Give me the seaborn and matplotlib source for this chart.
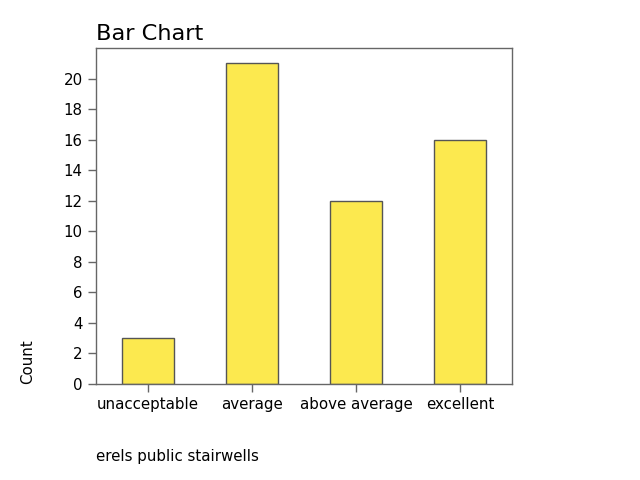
import numpy as np
import pandas as pd
import matplotlib
matplotlib.use('Agg')
import matplotlib.pyplot as plt
import seaborn as sns

categories = ['unacceptable', 'average', 'above average', 'excellent']
counts = [3, 21, 12, 16]

df = pd.DataFrame({'rating': categories, 'Count': counts})

sns.set_style('white')
plt.rcParams['font.family'] = ['DejaVu Sans']
plt.rcParams['text.color'] = 'black'

fig = plt.figure(figsize=(6.4, 4.8), dpi=100)
ax = fig.add_axes([0.15, 0.2, 0.65, 0.7])
sns.barplot(data=df, x='rating', y='Count', color='#fce94f', width=0.5,
            edgecolor='#555555', linewidth=1, saturation=1, ax=ax)

ax.set_ylim(0, 22)
ax.set_xlim(-0.5, 3.5)
ax.set_yticks(np.arange(0, 21, 2))
ax.tick_params(axis='both', which='both', length=6, width=1, color='#666666',
               labelcolor='black', labelsize=10.8, left=True, bottom=True,
               direction='out')
for s in ax.spines.values():
    s.set_color('#666666')
    s.set_linewidth(1)

ax.set_title('Bar Chart', loc='left', fontsize=16.2, color='black')
ax.set_xlabel('')
ax.set_ylabel('')
fig.text(0.043, 0.2, 'Count', rotation=90, fontsize=10.8, ha='center',
         va='bottom', color='black')
fig.text(0.15, 0.033, 'erels public stairwells', fontsize=10.8, ha='left',
         va='bottom', color='black')

fig.savefig('out.png', dpi=100)
